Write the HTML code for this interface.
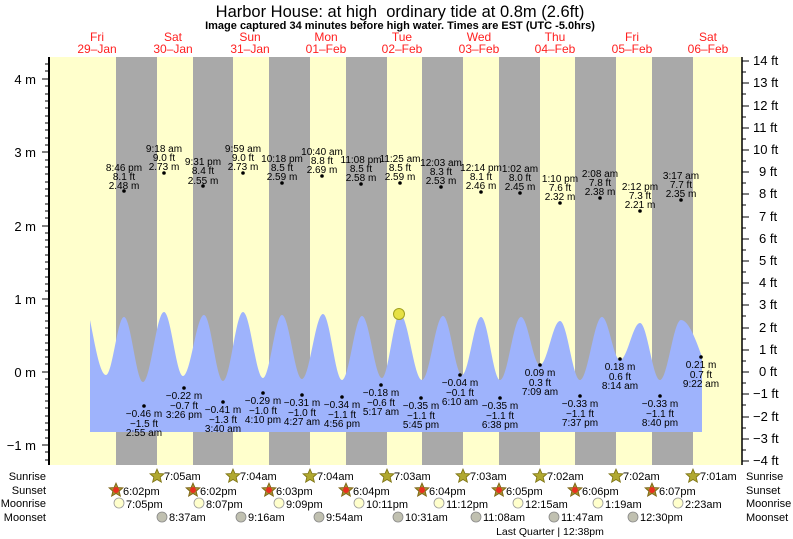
<!DOCTYPE html>
<html><head><meta charset="utf-8"><style>
html,body{margin:0;padding:0;background:#fff;}
svg{display:block;font-family:"Liberation Sans",Arial,sans-serif;}
.l{font-size:10px;text-anchor:middle;fill:#000;}
.ax{font-size:13px;fill:#000;}
.d{font-size:12px;fill:#ff2020;text-anchor:middle;}
.b{font-size:11px;fill:#000;}
</style></head><body>
<svg width="793" height="539" viewBox="0 0 793 539">
<text x="400" y="17" text-anchor="middle" font-size="16.5">Harbor House: at high &#160;ordinary tide at 0.8m (2.6ft)</text>
<text x="400" y="29" text-anchor="middle" font-size="11" font-weight="bold">Image captured 34 minutes before high water. Times are EST (UTC -5.0hrs)</text>
<g class="d">
<text x="97" y="41">Fri</text><text x="97" y="53">29–Jan</text>
<text x="173" y="41">Sat</text><text x="173" y="53">30–Jan</text>
<text x="250" y="41">Sun</text><text x="250" y="53">31–Jan</text>
<text x="326" y="41">Mon</text><text x="326" y="53">01–Feb</text>
<text x="402" y="41">Tue</text><text x="402" y="53">02–Feb</text>
<text x="479" y="41">Wed</text><text x="479" y="53">03–Feb</text>
<text x="555" y="41">Thu</text><text x="555" y="53">04–Feb</text>
<text x="632" y="41">Fri</text><text x="632" y="53">05–Feb</text>
<text x="708" y="41">Sat</text><text x="708" y="53">06–Feb</text>
</g>
<rect x="50" y="57" width="692" height="408" fill="#ffffcc"/>
<g fill="#a9a9a9">
<rect x="116" y="57" width="41" height="408"/><rect x="193" y="57" width="40" height="408"/>
<rect x="269" y="57" width="41" height="408"/><rect x="346" y="57" width="41" height="408"/>
<rect x="422" y="57" width="41" height="408"/><rect x="499" y="57" width="41" height="408"/>
<rect x="575" y="57" width="41" height="408"/><rect x="652" y="57" width="41" height="408"/>
</g>
<path fill="#9eb3fc" d="M90,432 L90,320 C95,345 100,375 106,375 C112.5,375 117.5,317 124,317 C130.8,317 136.2,382 143,382 C150.6,382 156.4,312 164,312 C170.8,312 176.2,376 183,376 C190.6,376 196.4,315 204,315 C210.8,315 216.2,381 223,381 C230.2,381 235.8,312 243,312 C250.2,312 255.8,378 263,378 C269.8,378 275.2,315 282,315 C289.2,315 294.8,379 302,379 C309.6,379 315.4,314 323,314 C329.8,314 335.2,380 342,380 C349.2,380 354.8,316 362,316 C369.2,316 374.8,378 382,378 C388.5,378 393.5,314 400,314 C407.9,314 414.1,380 422,380 C429.6,380 435.4,316 443,316 C449.8,316 455.2,375 462,375 C468.8,375 474.2,317 481,317 C487.8,317 493.2,380 500,380 C507.6,380 513.4,317 521,317 C527.8,317 533.2,365 540,365 C547.2,365 552.8,321 560,321 C567.2,321 572.8,380 580,380 C587.9,380 594.1,317 602,317 C608.5,317 613.5,360 620,360 C627.2,360 632.8,323 640,323 C647.2,323 652.8,380 660,380 C667.6,380 673.4,320 681,320 C688.6,320 696,340 702,357 L702,432 Z"/>
<circle cx="399" cy="314" r="5.5" fill="#e6e043" stroke="#a0a020" stroke-width="1"/>
<g class="l">
<circle cx="124" cy="191" r="1.8"/><text x="124" y="171">8:46 pm</text><text x="124" y="180">8.1 ft</text><text x="124" y="189">2.48 m</text>
<circle cx="164" cy="173" r="1.8"/><text x="164" y="152">9:18 am</text><text x="164" y="161">9.0 ft</text><text x="164" y="170">2.73 m</text>
<circle cx="203" cy="186" r="1.8"/><text x="203" y="165">9:31 pm</text><text x="203" y="174">8.4 ft</text><text x="203" y="184">2.55 m</text>
<circle cx="243" cy="173" r="1.8"/><text x="243" y="152">9:59 am</text><text x="243" y="161">9.0 ft</text><text x="243" y="170">2.73 m</text>
<circle cx="282" cy="183" r="1.8"/><text x="282" y="162">10:18 pm</text><text x="282" y="171">8.5 ft</text><text x="282" y="180">2.59 m</text>
<circle cx="322" cy="176" r="1.8"/><text x="322" y="155">10:40 am</text><text x="322" y="164">8.8 ft</text><text x="322" y="173">2.69 m</text>
<circle cx="361" cy="184" r="1.8"/><text x="361" y="163">11:08 pm</text><text x="361" y="172">8.5 ft</text><text x="361" y="181">2.58 m</text>
<circle cx="400" cy="183" r="1.8"/><text x="400" y="162">11:25 am</text><text x="400" y="171">8.5 ft</text><text x="400" y="180">2.59 m</text>
<circle cx="441" cy="187" r="1.8"/><text x="441" y="166">12:03 am</text><text x="441" y="175">8.3 ft</text><text x="441" y="184">2.53 m</text>
<circle cx="481" cy="192" r="1.8"/><text x="481" y="171">12:14 pm</text><text x="481" y="180">8.1 ft</text><text x="481" y="189">2.46 m</text>
<circle cx="520" cy="193" r="1.8"/><text x="520" y="172">1:02 am</text><text x="520" y="181">8.0 ft</text><text x="520" y="190">2.45 m</text>
<circle cx="560" cy="203" r="1.8"/><text x="560" y="182">1:10 pm</text><text x="560" y="191">7.6 ft</text><text x="560" y="200">2.32 m</text>
<circle cx="600" cy="198" r="1.8"/><text x="600" y="177">2:08 am</text><text x="600" y="186">7.8 ft</text><text x="600" y="195">2.38 m</text>
<circle cx="640" cy="211" r="1.8"/><text x="640" y="190">2:12 pm</text><text x="640" y="199">7.3 ft</text><text x="640" y="208">2.21 m</text>
<circle cx="681" cy="200" r="1.8"/><text x="681" y="179">3:17 am</text><text x="681" y="188">7.7 ft</text><text x="681" y="197">2.35 m</text>
</g>
<g class="l">
<circle cx="144" cy="406" r="1.8"/><text x="144" y="417">−0.46 m</text><text x="144" y="427">−1.5 ft</text><text x="144" y="436">2:55 am</text>
<circle cx="184" cy="388" r="1.8"/><text x="184" y="399">−0.22 m</text><text x="184" y="409">−0.7 ft</text><text x="184" y="418">3:26 pm</text>
<circle cx="223" cy="402" r="1.8"/><text x="223" y="413">−0.41 m</text><text x="223" y="423">−1.3 ft</text><text x="223" y="432">3:40 am</text>
<circle cx="263" cy="393" r="1.8"/><text x="263" y="404">−0.29 m</text><text x="263" y="414">−1.0 ft</text><text x="263" y="423">4:10 pm</text>
<circle cx="302" cy="395" r="1.8"/><text x="302" y="406">−0.31 m</text><text x="302" y="416">−1.0 ft</text><text x="302" y="425">4:27 am</text>
<circle cx="342" cy="397" r="1.8"/><text x="342" y="408">−0.34 m</text><text x="342" y="418">−1.1 ft</text><text x="342" y="427">4:56 pm</text>
<circle cx="381" cy="385" r="1.8"/><text x="381" y="396">−0.18 m</text><text x="381" y="406">−0.6 ft</text><text x="381" y="415">5:17 am</text>
<circle cx="421" cy="398" r="1.8"/><text x="421" y="409">−0.35 m</text><text x="421" y="419">−1.1 ft</text><text x="421" y="428">5:45 pm</text>
<circle cx="460" cy="375" r="1.8"/><text x="460" y="386">−0.04 m</text><text x="460" y="396">−0.1 ft</text><text x="460" y="405">6:10 am</text>
<circle cx="500" cy="398" r="1.8"/><text x="500" y="409">−0.35 m</text><text x="500" y="419">−1.1 ft</text><text x="500" y="428">6:38 pm</text>
<circle cx="540" cy="365" r="1.8"/><text x="540" y="376">0.09 m</text><text x="540" y="386">0.3 ft</text><text x="540" y="395">7:09 am</text>
<circle cx="580" cy="396" r="1.8"/><text x="580" y="407">−0.33 m</text><text x="580" y="417">−1.1 ft</text><text x="580" y="426">7:37 pm</text>
<circle cx="620" cy="359" r="1.8"/><text x="620" y="370">0.18 m</text><text x="620" y="380">0.6 ft</text><text x="620" y="389">8:14 am</text>
<circle cx="660" cy="396" r="1.8"/><text x="660" y="407">−0.33 m</text><text x="660" y="417">−1.1 ft</text><text x="660" y="426">8:40 pm</text>
<circle cx="701" cy="357" r="1.8"/><text x="701" y="368">0.21 m</text><text x="701" y="378">0.7 ft</text><text x="701" y="387">9:22 am</text>
</g>
<line x1="49" y1="57" x2="49" y2="465" stroke="#000" stroke-width="2"/>
<line x1="742" y1="57" x2="742" y2="465" stroke="#000" stroke-width="1.5"/>
<g stroke="#000" stroke-width="1">
<path d="M42,79H49M42,152H49M42,226H49M42,299H49M42,372H49M42,445H49"/>
<path d="M45,64H49M45,71H49M45,86H49M45,94H49M45,101H49M45,108H49M45,116H49M45,123H49M45,130H49M45,138H49M45,145H49M45,160H49M45,167H49M45,174H49M45,182H49M45,189H49M45,196H49M45,204H49M45,211H49M45,218H49M45,233H49M45,240H49M45,247H49M45,255H49M45,262H49M45,269H49M45,277H49M45,284H49M45,291H49M45,306H49M45,313H49M45,321H49M45,328H49M45,335H49M45,343H49M45,350H49M45,357H49M45,364H49M45,379H49M45,387H49M45,394H49M45,401H49M45,408H49M45,416H49M45,423H49M45,430H49M45,438H49M45,452H49M45,460H49"/>
<path d="M742,61H749M742,83H749M742,106H749M742,128H749M742,150H749M742,172H749M742,194H749M742,217H749M742,239H749M742,261H749M742,283H749M742,305H749M742,328H749M742,350H749M742,372H749M742,394H749M742,417H749M742,439H749M742,461H749"/>
<path d="M742,72H746M742,94H746M742,117H746M742,139H746M742,161H746M742,183H746M742,205H746M742,228H746M742,250H746M742,272H746M742,294H746M742,316H746M742,339H746M742,361H746M742,383H746M742,405H746M742,428H746M742,450H746"/>
</g>
<g class="ax" text-anchor="end">
<text x="36" y="84">4 m</text><text x="36" y="157">3 m</text><text x="36" y="231">2 m</text><text x="36" y="304">1 m</text><text x="36" y="377">0 m</text><text x="36" y="450">−1 m</text>
</g>
<g class="ax" font-size="12.5">
<text x="753" y="65">14 ft</text><text x="753" y="87">13 ft</text><text x="753" y="110">12 ft</text><text x="753" y="132">11 ft</text><text x="753" y="154">10 ft</text><text x="759" y="176">9 ft</text><text x="759" y="198">8 ft</text><text x="759" y="221">7 ft</text><text x="759" y="243">6 ft</text><text x="759" y="265">5 ft</text><text x="759" y="287">4 ft</text><text x="759" y="309">3 ft</text><text x="759" y="332">2 ft</text><text x="759" y="354">1 ft</text><text x="759" y="376">0 ft</text><text x="753" y="398">−1 ft</text><text x="753" y="421">−2 ft</text><text x="753" y="443">−3 ft</text><text x="753" y="465">−4 ft</text>
</g>
<g class="b" text-anchor="end">
<text x="46" y="480">Sunrise</text><text x="46" y="494">Sunset</text><text x="46" y="507">Moonrise</text><text x="46" y="521">Moonset</text>
</g>
<g class="b">
<text x="746" y="480">Sunrise</text><text x="746" y="494">Sunset</text><text x="746" y="507">Moonrise</text><text x="746" y="521">Moonset</text>
</g>
<defs>
<polygon id="st" points="0,-7 2,-2.5 7,-2.2 3.2,1.2 4.4,6.2 0,3.5 -4.4,6.2 -3.2,1.2 -7,-2.2 -2,-2.5"/>
</defs>
<g font-size="11" fill="#000">
<g fill="#b0a830" stroke="#7a7010" stroke-width="0.8">
<use href="#st" x="157" y="476"/><use href="#st" x="233" y="476"/><use href="#st" x="310" y="476"/><use href="#st" x="387" y="476"/><use href="#st" x="463" y="476"/><use href="#st" x="540" y="476"/><use href="#st" x="616" y="476"/><use href="#st" x="693" y="476"/>
</g>
<text x="164" y="480">7:05am</text><text x="240" y="480">7:04am</text><text x="317" y="480">7:04am</text><text x="394" y="480">7:03am</text><text x="470" y="480">7:03am</text><text x="547" y="480">7:02am</text><text x="623" y="480">7:02am</text><text x="700" y="480">7:01am</text>
<g fill="#a09030" stroke="#7a6010" stroke-width="0.8">
<use href="#st" x="116" y="490"/><use href="#st" x="193" y="490"/><use href="#st" x="269" y="490"/><use href="#st" x="346" y="490"/><use href="#st" x="422" y="490"/><use href="#st" x="499" y="490"/><use href="#st" x="575" y="490"/><use href="#st" x="652" y="490"/>
</g>
<g fill="#e83020"><circle cx="116" cy="490" r="3"/><circle cx="193" cy="490" r="3"/><circle cx="269" cy="490" r="3"/><circle cx="346" cy="490" r="3"/><circle cx="422" cy="490" r="3"/><circle cx="499" cy="490" r="3"/><circle cx="575" cy="490" r="3"/><circle cx="652" cy="490" r="3"/></g>
<text x="123" y="495">6:02pm</text><text x="200" y="495">6:02pm</text><text x="276" y="495">6:03pm</text><text x="353" y="495">6:04pm</text><text x="429" y="495">6:04pm</text><text x="506" y="495">6:05pm</text><text x="582" y="495">6:06pm</text><text x="659" y="495">6:07pm</text>
<g fill="#ffffcc" stroke="#999" stroke-width="0.8">
<circle cx="119" cy="503" r="5"/><circle cx="199" cy="503" r="5"/><circle cx="279" cy="503" r="5"/><circle cx="359" cy="503" r="5"/><circle cx="439" cy="503" r="5"/><circle cx="518" cy="503" r="5"/><circle cx="598" cy="503" r="5"/><circle cx="678" cy="503" r="5"/>
</g>
<text x="126" y="508">7:05pm</text><text x="206" y="508">8:07pm</text><text x="286" y="508">9:09pm</text><text x="366" y="508">10:11pm</text><text x="446" y="508">11:12pm</text><text x="525" y="508">12:15am</text><text x="605" y="508">1:19am</text><text x="685" y="508">2:23am</text>
<g fill="#c0c0b0" stroke="#888" stroke-width="0.8">
<circle cx="162" cy="517" r="5"/><circle cx="241" cy="517" r="5"/><circle cx="319" cy="517" r="5"/><circle cx="398" cy="517" r="5"/><circle cx="476" cy="517" r="5"/><circle cx="554" cy="517" r="5"/><circle cx="633" cy="517" r="5"/>
</g>
<text x="169" y="521">8:37am</text><text x="248" y="521">9:16am</text><text x="326" y="521">9:54am</text><text x="405" y="521">10:31am</text><text x="483" y="521">11:08am</text><text x="561" y="521">11:47am</text><text x="640" y="521">12:30pm</text>
<text x="550" y="535" text-anchor="middle" font-size="10.5">Last Quarter | 12:38pm</text>
</g>
</svg>
</body></html>
